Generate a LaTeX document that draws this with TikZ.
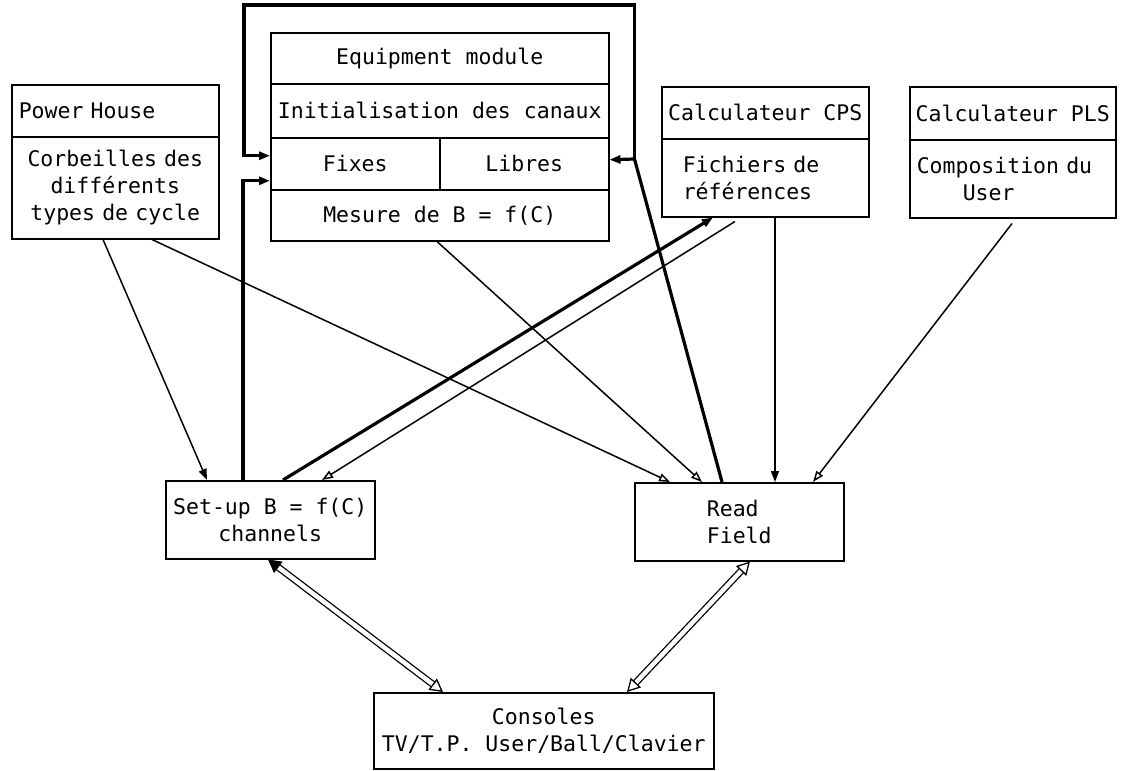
\documentclass[tikz,border=0pt]{standalone}
\usepackage{fontspec}
\newfontfamily\mono{DejaVu Sans Mono}
\usetikzlibrary{arrows.meta,calc}
\begin{document}
\begin{tikzpicture}[x=1pt,y=-1pt,
  cell/.style={draw, line width=1.5pt, rectangle, inner sep=0pt, anchor=north west,
    font={\mono\fontsize{21.5}{27}\selectfont}},
  ln/.style={line width=1.5pt},
  thk/.style={line width=3.2pt},
  fh/.style={-{Triangle[length=11pt,width=8pt]}},
  oh/.style={-{Triangle[open,length=11pt,width=8pt]}},
  dbl/.style={double, double distance=4.5pt, line width=1.3pt}
]
\useasboundingbox (0,0) rectangle (1125,771);

% Equipment module
\node[cell, minimum width=338pt, minimum height=51pt] (em1) at (270,32) {Equipment module};
\node[cell, minimum width=338pt, minimum height=54pt] (em2) at (270,83) {Initialisation des canaux};
\node[cell, minimum width=169pt, minimum height=52pt] (em3a) at (270,137) {Fixes};
\node[cell, minimum width=169pt, minimum height=52pt] (em3b) at (439,137) {Libres};
\node[cell, minimum width=338pt, minimum height=51pt] (em4) at (270,189) {Mesure de B = f(C)};

% Power House
\node[cell, minimum width=207pt, minimum height=52pt, text width=193pt, align=left] (ph1) at (11,84) {Power House};
\node[cell, minimum width=207pt, minimum height=102pt, text width=193pt, align=center] (ph2) at (11,136) {Corbeilles des\\différents\\types de cycle};

% Calculateur CPS
\node[cell, minimum width=207pt, minimum height=52pt] (cps1) at (661,86) {Calculateur CPS};
\node[cell, minimum width=207pt, minimum height=78pt, text width=165pt, align=left] (cps2) at (661,138) {Fichiers de\\références};

% Calculateur PLS
\node[cell, minimum width=206pt, minimum height=53pt] (pls1) at (909,86) {Calculateur PLS};
\node[cell, minimum width=206pt, minimum height=78pt, text width=192pt, align=left] (pls2) at (909,139) {Composition du\\\hspace*{46pt}User};

% Lower boxes
\node[cell, minimum width=209pt, minimum height=78pt, align=center] (setup) at (165,480) {Set-up B = f(C)\\channels};
\node[cell, minimum width=209pt, minimum height=78pt, align=left] (read) at (634,482) {Read\\Field};
\node[cell, minimum width=340pt, minimum height=76pt, align=center] (cons) at (373,692) {Consoles\\TV/T.P. User/Ball/Clavier};

% junction of the feedback loop
\coordinate (j) at ($(em3b.north east)+(25,22)$);

% connectors
\draw[ln,fh] ($(ph2.south west)+(92,0)$) -- ($(setup.north west)+(42,0)$);
\draw[ln,oh] ($(ph2.south west)+(141,0)$) -- ($(read.north west)+(36,0)$);
\draw[ln,oh] ($(em4.south west)+(167,0)$) -- ($(read.north west)+(68,0)$);

\draw[thk] ($(read.north west)+(88,0)$) -- (j);
\draw[thk,fh] (j) -- ++(0,-154) -| ($(em3a.west)+(-26,-8)$) -- ($(em3a.west)+(0,-8)$);
\draw[thk,fh] (j) -- ($(em3b.east)+(0,-4)$);

\draw[thk,fh] ($(setup.north west)+(78,0)$) |- ($(em3a.west)+(0,17)$);

\draw[thk,fh] ($(setup.north west)+(118,0)$) -- ($(cps2.south west)+(52,0)$);
\draw[ln,oh] ($(cps2.south west)+(74,4)$) -- ($(setup.north west)+(157,0)$);
\draw[ln,fh] ($(cps2.south west)+(114,0)$) -- ($(read.north west)+(141,0)$);
\draw[ln,oh] ($(pls2.south west)+(103,5)$) -- ($(read.north west)+(179,0)$);

\draw[dbl,{Triangle[length=13pt,width=14pt]}-{Triangle[open,length=13pt,width=14pt]}]
  ($(setup.south west)+(103,0)$) -- ($(cons.north west)+(70,0)$);
\draw[dbl,{Triangle[open,length=13pt,width=14pt]}-{Triangle[open,length=13pt,width=14pt]}]
  ($(read.south west)+(116,0)$) -- ($(cons.north west)+(254,0)$);
\end{tikzpicture}
\end{document}
